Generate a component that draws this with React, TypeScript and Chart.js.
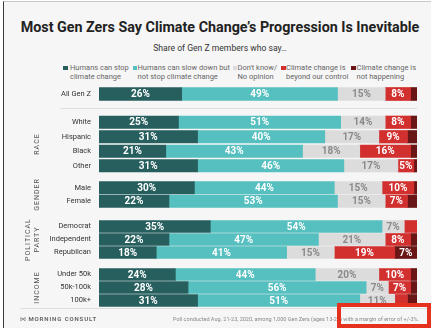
import React, { useEffect, useRef } from "react";
import { Chart, registerables } from "chart.js";

Chart.register(...registerables);
Chart.defaults.font.family = "Roboto";

const TITLE = "Most Gen Zers Say Climate Change’s Progression Is Inevitable";
const SUBTITLE = "Share of Gen Z members who say…";
const NOTE = "Poll conducted Aug. 21-23, 2020, among 1,000 Gen Zers (ages 13-23) with a margin of error of +/-3%.";

const SERIES = [
  "Humans can stop\nclimate change",
  "Humans can slow down but\nnot stop climate change",
  "Don't know/\nNo opinion",
  "Climate change is\nbeyond our control",
  "Climate change is\nnot happening",
];

const ROWS = ["All Gen Z", "White", "Hispanic", "Black", "Other", "Male", "Female", "Democrat", "Independent", "Republican", "Under 50k", "50k-100k", "100k+"];
const CAN_STOP = [26, 25, 31, 21, 31, 30, 22, 35, 22, 18, 24, 28, 31];
const SLOW_DOWN = [49, 51, 40, 43, 46, 44, 53, 54, 47, 41, 44, 56, 51];
const DONT_KNOW = [15, 14, 17, 18, 17, 15, 15, 7, 21, 15, 20, 7, 11];
const BEYOND = [8, 8, 9, 16, 5, 10, 7, 4, 8, 19, 10, 7, 4];
const NOT_HAPPENING = [2, 2, 3, 2, 1, 1, 3, 0, 2, 7, 2, 2, 3];
const SERIES_VALUES = [CAN_STOP, SLOW_DOWN, DONT_KNOW, BEYOND, NOT_HAPPENING];

const GROUP_TITLES: (string | string[])[] = ["", "RACE", "GENDER", ["POLITICAL", "PARTY"], "INCOME"];
const GROUP_RANGES = [[0, 1], [1, 5], [5, 7], [7, 10], [10, 13]];

// layout (not data)
const MARGIN = 24;
const GROUP_LAYOUT = [
  { top: 87, height: 14, bar: 13, titlePad: 32.8 },
  { top: 115, height: 58, bar: 12.5, titlePad: 32.8 },
  { top: 181, height: 27, bar: 12.5, titlePad: 32.8 },
  { top: 220, height: 39, bar: 12, titlePad: 23.6 },
  { top: 268, height: 39, bar: 12, titlePad: 32.8 },
];
const COLORS = ["#275f5f", "#56bfbf", "#dcdcdc", "#d22f2f", "#6a1616"];
const LABEL_COLORS = ["#ffffff", "#ffffff", "#8a8a8a", "#ffffff", "#ffffff"];
const LEGEND_POS = [
  { sq: 63, tx: 70 },
  { sq: 132.5, tx: 137.5 },
  { sq: 232.5, tx: 237.5 },
  { sq: 281, tx: 286 },
  { sq: 351, tx: 356.5 },
];

const valueLabels = {
  id: "valueLabels",
  afterDatasetsDraw(chart: any) {
    const ctx = chart.ctx;
    ctx.save();
    ctx.font = "bold 10px Roboto";
    ctx.textAlign = "center";
    ctx.textBaseline = "middle";
    chart.data.datasets.forEach((ds: any, di: number) => {
      const meta = chart.getDatasetMeta(di);
      meta.data.forEach((el: any, i: number) => {
        const v = ds.data[i];
        if (v < 5) return;
        const p = el.getProps(["x", "base", "y"], true);
        ctx.fillStyle = LABEL_COLORS[di];
        ctx.fillText(v + "%", (p.x + p.base) / 2, p.y + 0.5);
      });
    });
    ctx.restore();
  },
};

function GroupChart({ gi }: { gi: number }) {
  const ref = useRef<HTMLCanvasElement>(null);
  const lay = GROUP_LAYOUT[gi];
  useEffect(() => {
    const [s, e] = GROUP_RANGES[gi];
    const title = GROUP_TITLES[gi];
    const chart = new Chart(ref.current as HTMLCanvasElement, {
      type: "bar",
      data: {
        labels: ROWS.slice(s, e),
        datasets: SERIES_VALUES.map((vals, i) => ({
          label: SERIES[i],
          data: vals.slice(s, e),
          backgroundColor: COLORS[i],
          borderWidth: 0,
          barThickness: lay.bar,
        })),
      },
      options: {
        indexAxis: "y",
        responsive: true,
        maintainAspectRatio: false,
        animation: false,
        events: [],
        layout: { padding: { left: 0, right: 14, top: MARGIN, bottom: MARGIN } },
        plugins: { legend: { display: false }, tooltip: { enabled: false } },
        scales: {
          x: { stacked: true, min: 0, max: 100, display: false },
          y: {
            stacked: true,
            grid: { display: false, drawTicks: false },
            border: { display: false },
            ticks: { padding: 8, color: "#333", autoSkip: false, font: { family: "Roboto", size: 7.5 } },
            title: {
              display: title !== "",
              text: title as any,
              color: "#555",
              font: { family: "Roboto", size: 7, lineHeight: "9.4px" as any },
              padding: { top: lay.titlePad, bottom: 0 },
            },
            afterFit: (scale: any) => {
              scale.width = 99;
              scale.paddingTop = 0;
              scale.paddingBottom = 0;
              if (!scale._ls) {
                const orig = scale.drawTitle.bind(scale);
                scale.drawTitle = () => {
                  const c = scale.ctx;
                  c.save();
                  c.letterSpacing = "1px";
                  orig();
                  c.restore();
                };
                scale._ls = true;
              }
            },
          },
        },
      } as any,
      plugins: [valueLabels],
    });
    return () => chart.destroy();
  }, []);
  return (
    <div style={{ position: "absolute", left: 0, top: lay.top - MARGIN, width: 431, height: lay.height + 2 * MARGIN, pointerEvents: "none" }}>
      <canvas ref={ref} />
    </div>
  );
}

export default function App() {
  return (
    <div style={{ position: "absolute", left: 0, top: 0, width: 431, height: 328, overflow: "hidden", background: "#ffffff", fontFamily: "Roboto" }}>
      <div style={{ position: "absolute", left: 3, top: 1, width: 428, height: 327, background: "#f6f6f6", borderLeft: "1.5px solid #3a3a3a", borderTop: "1px solid #c8c8c8", boxSizing: "border-box" }} />
      <div style={{ position: "absolute", left: 0, width: 440, top: 17, textAlign: "center", fontWeight: 700, fontSize: 14.3, color: "#222", whiteSpace: "nowrap", lineHeight: "20px" }}>{TITLE}</div>
      <div style={{ position: "absolute", left: 0, width: 440, top: 42.5, textAlign: "center", fontSize: 8.6, color: "#333", lineHeight: "11px" }}>{SUBTITLE}</div>
      {SERIES.map((s, i) => (
        <React.Fragment key={i}>
          <div style={{ position: "absolute", left: LEGEND_POS[i].sq, top: 65.5, width: 4.5, height: 4.5, background: COLORS[i] }} />
          <div style={{ position: "absolute", left: LEGEND_POS[i].tx, top: 62.5, fontSize: 7.5, lineHeight: "9.4px", color: "#666", whiteSpace: "pre" }}>{s}</div>
        </React.Fragment>
      ))}
      <div style={{ position: "absolute", left: 60, top: 108, width: 357, height: 1, background: "#dedede" }} />
      {GROUP_LAYOUT.map((_, i) => (
        <GroupChart key={i} gi={i} />
      ))}
      <div style={{ position: "absolute", left: 20, top: 308, width: 407, height: 1, background: "#dedede" }} />
      <div style={{ position: "absolute", left: 20, top: 315, fontSize: 6, lineHeight: "8px", color: "#666", fontWeight: 700, letterSpacing: "0.9px", whiteSpace: "nowrap" }}>
        <span style={{ fontFamily: "DejaVu Sans", fontWeight: 400, letterSpacing: 0 }}>⋈</span> MORNING CONSULT
      </div>
      <div style={{ position: "absolute", left: 173, top: 315.5, fontSize: 5.5, lineHeight: "7px", color: "#888", whiteSpace: "nowrap" }}>{NOTE}</div>
      <div style={{ position: "absolute", left: 337, top: 303, width: 94, height: 25, border: "4px solid #e5321f", boxSizing: "border-box" }} />
    </div>
  );
}
